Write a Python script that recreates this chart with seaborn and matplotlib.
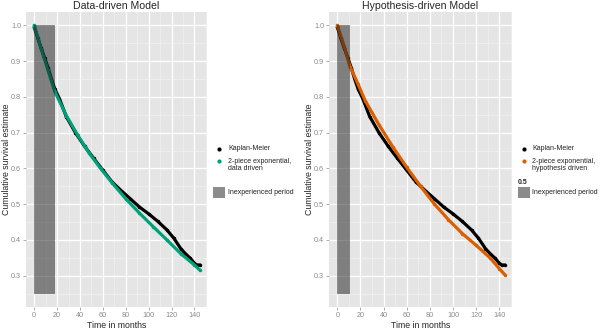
import matplotlib
matplotlib.use("Agg")
import matplotlib.pyplot as plt
import seaborn as sns
from matplotlib.lines import Line2D
from matplotlib.patches import Rectangle
from matplotlib.ticker import MultipleLocator

# Kaplan-Meier estimate (same cohort in both panels)
km_time = [0, 3, 6, 9, 12, 15, 18, 22, 28, 36, 44, 52, 60, 68, 76, 84, 92,
           100, 108, 116, 122, 128, 132, 136, 140, 142, 145]
km_surv = [0.995, 0.965, 0.937, 0.910, 0.882, 0.850, 0.822, 0.795, 0.745, 0.700,
           0.662, 0.628, 0.595, 0.562, 0.538, 0.515, 0.492, 0.473, 0.452, 0.428,
           0.405, 0.376, 0.362, 0.350, 0.335, 0.330, 0.330]

# 2-piece exponential, data driven (break at 18 months)
dd_time = [0, 6, 12, 18, 28, 38, 48, 58, 68, 80, 92, 104, 116, 128, 140, 145]
dd_surv = [1.0, 0.935, 0.875, 0.815, 0.748, 0.693, 0.643, 0.600, 0.560, 0.515,
           0.475, 0.437, 0.400, 0.362, 0.330, 0.315]

# 2-piece exponential, hypothesis driven (break at 11 months)
hd_time = [0, 6, 11, 18, 24, 36, 48, 60, 72, 84, 96, 108, 120, 132, 140, 145]
hd_surv = [1.0, 0.940, 0.885, 0.835, 0.790, 0.722, 0.660, 0.603, 0.550, 0.500,
           0.457, 0.418, 0.385, 0.350, 0.320, 0.302]

inexp_end = [18, 11]
inexp_low, inexp_high = 0.25, 1.0

titles = ["Data-driven Model", "Hypothesis-driven Model"]
fit_labels = ["2-piece exponential,\ndata driven", "2-piece exponential,\nhypothesis driven"]
fit_colors = ["#00A079", "#D95F02"]

sns.set_theme(style="darkgrid", rc={
    "axes.facecolor": "#E5E5E5",
    "grid.color": "white",
    "xtick.bottom": True,
    "ytick.left": True,
})
plt.rcParams["font.family"] = ["Liberation Sans", "DejaVu Sans"]

W, H = 600, 333
fig = plt.figure(figsize=(6, 3.33), dpi=100)
axes = [fig.add_axes([26 / W, 26 / H, 181 / W, 295 / H]),
        fig.add_axes([329 / W, 26 / H, 183 / W, 295 / H])]

fits = [(dd_time, dd_surv), (hd_time, hd_surv)]

for i, ax in enumerate(axes):
    ax.set_axisbelow(True)
    sns.lineplot(x=km_time, y=km_surv, ax=ax, color="black", lw=2.3,
                 marker="o", markersize=2.5, markeredgewidth=0, zorder=3)
    sns.lineplot(x=fits[i][0], y=fits[i][1], ax=ax, color=fit_colors[i], lw=2.3,
                 marker="o", markersize=2.5, markeredgewidth=0, zorder=4)
    # inexperienced period, drawn over the curves with alpha 0.5
    ax.fill_between([0, inexp_end[i]], inexp_low, inexp_high,
                    color="#1a1a1a", alpha=0.5, lw=0, zorder=5)

    ax.set_xlim(-7.2, 151)
    ax.set_ylim(0.2125, 1.0375)
    ax.xaxis.set_major_locator(MultipleLocator(20))
    ax.xaxis.set_minor_locator(MultipleLocator(10))
    ax.yaxis.set_major_locator(MultipleLocator(0.1))
    ax.yaxis.set_minor_locator(MultipleLocator(0.05))
    ax.grid(which="major", color="white", lw=0.9)
    ax.grid(which="minor", color="#F2F2F2", lw=0.45)
    ax.tick_params(which="major", length=2, width=0.5, color="#8a8a8a",
                   labelsize=5.2, labelcolor="#8a8a8a", pad=1.5)
    ax.tick_params(which="minor", length=0)
    ax.yaxis.set_major_formatter(matplotlib.ticker.FormatStrFormatter("%.1f"))
    for s in ax.spines.values():
        s.set_visible(False)

    ax.set_title(titles[i], fontsize=7.6, pad=2.5)
    ax.set_xlabel("Time in months", fontsize=6.3, labelpad=1.5)
    ax.set_ylabel("Cumulative survival estimate", fontsize=6.3, labelpad=0)


def fy(py):
    return 1 - py / H


# legends drawn by hand at the reference's pixel positions
leg_specs = [
    dict(dot_x=219, text_x=228, title=None, color=fit_colors[0], label=fit_labels[0]),
    dict(dot_x=524, text_x=532, title="0.5", color=fit_colors[1], label=fit_labels[1]),
]
for spec in leg_specs:
    dx = spec["dot_x"] / W
    tx = spec["text_x"] / W
    fig.add_artist(Line2D([dx], [fy(149)], marker="o", ms=3, color="black",
                          mew=0, transform=fig.transFigure))
    fig.text(tx, fy(149), "Kaplan-Meier", fontsize=5, va="center", color="#222222")
    fig.add_artist(Line2D([dx], [fy(161)], marker="o", ms=3, color=spec["color"],
                          mew=0, transform=fig.transFigure))
    fig.text(tx, fy(165), spec["label"], fontsize=5, va="center", color="#222222",
             linespacing=1.05)
    fig.add_artist(Rectangle((dx - 6 / W, fy(198)), 12 / W, 11 / H,
                             transform=fig.transFigure, facecolor="#1a1a1a",
                             alpha=0.5, lw=0))
    fig.text(tx, fy(192.5), "Inexperienced period", fontsize=5, va="center",
             color="#222222")
    if spec["title"]:
        fig.text(dx - 6 / W, fy(182.5), spec["title"], fontsize=5, va="center",
                 fontweight="bold")

fig.savefig("out.png", dpi=100)
